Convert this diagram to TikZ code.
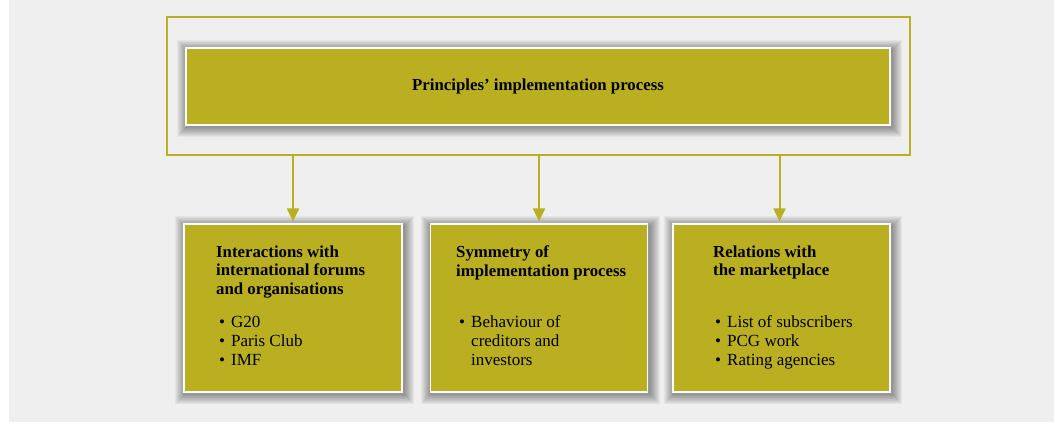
\documentclass[tikz,border=0pt]{standalone}
\usepackage{fontspec}
\setmainfont{Liberation Serif}
\usetikzlibrary{arrows.meta,calc}
\definecolor{olive}{RGB}{186,175,33}
\definecolor{pagegrey}{RGB}{239,239,239}
\newcommand{\bul}[1]{\makebox[12pt][l]{\textbullet}#1}
\newcommand{\bulgap}{\hspace*{12pt}}
\pgfdeclarelayer{shade}
\pgfdeclarelayer{paper}
\pgfsetlayers{paper,shade,main}
% soft shadow behind a named box
\newcommand{\softshadow}[1]{%
	\begin{pgfonlayer}{shade}
		\foreach \r in {10,9,...,1}
			\fill[black, opacity=0.045] ($(#1.south west)+(-\r+1.5,-\r-1.5)$) rectangle ($(#1.north east)+(\r+1.5,\r-3)$);
	\end{pgfonlayer}}

\begin{document}
\begin{tikzpicture}[x=1pt,y=1pt,
	box/.style={fill=olive, draw=white, line width=1.2pt, inner sep=0pt},
	heading/.style={anchor=north west, inner sep=0pt, align=left, font=\fontsize{16.8}{18.5}\selectfont\bfseries},
	items/.style={anchor=north west, inner sep=0pt, align=left, font=\fontsize{17}{19}\selectfont},
	link/.style={draw=olive, line width=2pt, -{Triangle[width=12pt,length=13pt]}}]
	%%%%% START %%%%%
	
	\begin{pgfonlayer}{paper}
		\fill[white] (0,0) rectangle (1054,425);
		\fill[pagegrey] (9,3) rectangle (1054,425);
	\end{pgfonlayer}
	
	% upper part
	\node[draw=olive, line width=2pt, minimum width=743pt, minimum height=138pt] (frame) at (538.5,339) {};
	\node[box, minimum width=704pt, minimum height=77pt, font=\fontsize{16.8}{18.5}\selectfont\bfseries] (top) at (538,338.5) {Principles' implementation process};
	\softshadow{top}
	
	% lower boxes
	\node[box, minimum width=218pt, minimum height=168pt] (forums) at (293,117) {};
	\node[box, minimum width=217pt, minimum height=168pt] (symmetry) at (539,117) {};
	\node[box, minimum width=217pt, minimum height=168pt] (market) at (781.5,117) {};
	\softshadow{forums}
	\softshadow{symmetry}
	\softshadow{market}
	
	\node[heading] (forumshead) at (216,179.5) {Interactions with\\international forums\\and organisations};
	\node[items] (forumslist) at (219,109.5) {\bul{G20}\\\bul{Paris Club}\\\bul{IMF}};
	
	\node[heading] (symhead) at (456,179.5) {Symmetry of\\implementation process};
	\node[items] (symlist) at (459,109.5) {\bul{Behaviour of}\\\bulgap creditors and\\\bulgap investors};
	
	\node[heading] (markethead) at (713,179.5) {Relations with\\the marketplace};
	\node[items] (marketlist) at (715,109.5) {\bul{List of subscribers}\\\bul{PCG work}\\\bul{Rating agencies}};
	
	% connectors
	\draw[link] (frame.south -| forums.north) -- ([yshift=2pt]forums.north);
	\draw[link] (frame.south -| symmetry.north) -- ([yshift=2pt]symmetry.north);
	\draw[link] ([xshift=-2pt]frame.south -| market.north) -- ([xshift=-2pt,yshift=2pt]market.north);
	
	%%%%% END %%%%%
\end{tikzpicture}
\end{document}
